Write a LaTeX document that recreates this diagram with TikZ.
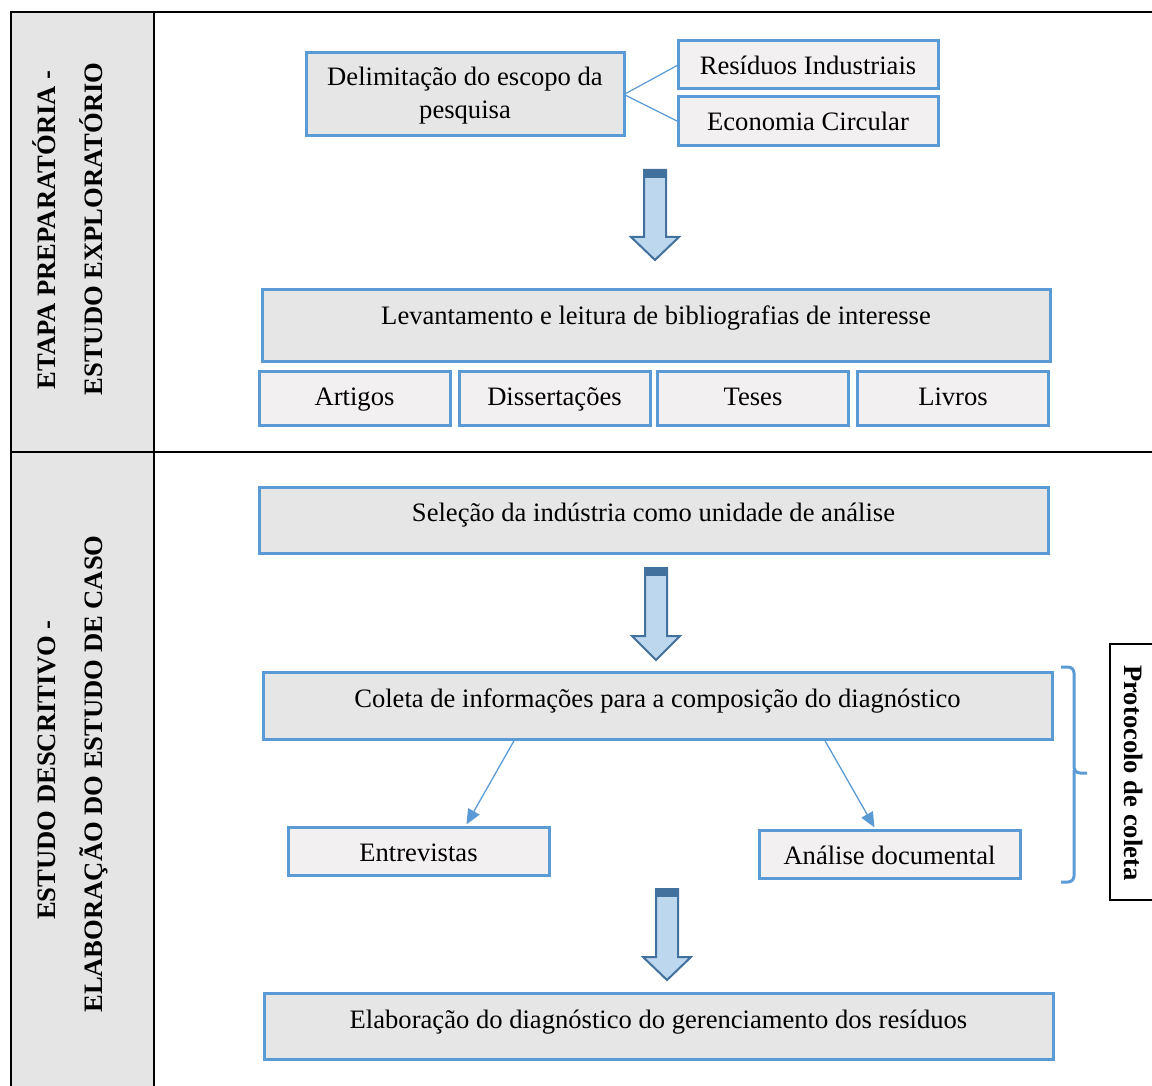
\documentclass[tikz,border=0pt]{standalone}
\usepackage{fontspec}
\setmainfont{Liberation Serif}
\usetikzlibrary{arrows.meta}
\definecolor{boxline}{HTML}{5B9BD5}
\definecolor{boxfill}{HTML}{E7E6E6}
\definecolor{subfill}{HTML}{F2F0F0}
\definecolor{sidefill}{HTML}{E5E5E5}
\definecolor{arrowfill}{HTML}{BDD7EE}
\definecolor{arrowline}{HTML}{41719C}
\begin{document}
\begin{tikzpicture}[x=1pt,y=-1pt,
  every node/.style={font=\fontsize{26.6}{33}\selectfont, inner sep=0pt, outer sep=0pt},
  box/.style={draw=boxline, line width=3pt, fill=boxfill},
  subbox/.style={draw=boxline, line width=3pt, fill=subfill},
  txt/.style={anchor=base},
  sidelabel/.style={font=\fontsize{26.6}{33}\selectfont\bfseries, rotate=90, anchor=base},
  grid/.style={black, line width=2.2pt},
  link/.style={boxline, line width=1.2pt},
  linkarrow/.style={boxline, line width=1.3pt, -{Triangle[length=15pt,width=13pt]}},
  bigarrow/.style={fill=arrowfill, draw=arrowline, line width=2pt, line join=miter}]
\useasboundingbox (0,0) rectangle (1152,1086);

% table: grey title column and frame lines
\fill[sidefill] (11,12) rectangle (154,1086);
\draw[grid] (11,1090) -- (11,12) -- (1155,12);
\draw[grid] (154,12) -- (154,1090);
\draw[grid] (11,452) -- (1155,452);

% row titles
\node[sidelabel] (t1a) at (55,230) {ETAPA PREPARATÓRIA -};
\node[sidelabel] (t1b) at (102,229) {ESTUDO EXPLORATÓRIO};
\node[sidelabel] (t2a) at (55,770) {ESTUDO DESCRITIVO -};
\node[sidelabel] (t2b) at (102,774) {ELABORAÇÃO DO ESTUDO DE CASO};

% exploratory stage
\node[box, minimum width=318, minimum height=83] (delim) at (465,94.5) {};
\node[txt] (delimA) at (465,86) {Delimitação do escopo da};
\node[txt] (delimB) at (465,119) {pesquisa};
\node[subbox, minimum width=260, minimum height=48] (res) at (808,65) {};
\node[txt] (resT) at (808,75) {Resíduos Industriais};
\node[subbox, minimum width=260, minimum height=49] (eco) at (808,121.5) {};
\node[txt] (ecoT) at (808,131) {Economia Circular};
\draw[link] (delim.east) -- (res.west);
\draw[link] (delim.east) -- (eco.west);

\node[box, minimum width=788, minimum height=71] (lev) at (656,325.5) {};
\node[txt] (levT) at (656,324) {Levantamento e leitura de bibliografias de interesse};
\node[subbox, minimum width=191, minimum height=54] (art) at (354.5,398) {};
\node[txt] (artT) at (354.5,405) {Artigos};
\node[subbox, minimum width=191, minimum height=54] (dis) at (554.5,398) {};
\node[txt] (disT) at (554.5,405) {Dissertações};
\node[subbox, minimum width=191, minimum height=54] (tes) at (753,398) {};
\node[txt] (tesT) at (753,405) {Teses};
\node[subbox, minimum width=191, minimum height=54] (liv) at (953,398) {};
\node[txt] (livT) at (953,405) {Livros};

% descriptive stage
\node[box, minimum width=789, minimum height=66] (sel) at (653.5,520) {};
\node[txt] (selT) at (653.5,521) {Seleção da indústria como unidade de análise};
\node[box, minimum width=789, minimum height=67] (col) at (657.5,705.5) {};
\node[txt] (colT) at (657.5,707) {Coleta de informações para a composição do diagnóstico};
\node[subbox, minimum width=261, minimum height=48] (ent) at (418.5,851) {};
\node[txt] (entT) at (418.5,861) {Entrevistas};
\node[subbox, minimum width=261, minimum height=48] (ana) at (889.5,854) {};
\node[txt] (anaT) at (889.5,864) {Análise documental};
\node[box, minimum width=789, minimum height=66] (ela) at (658.5,1026) {};
\node[txt] (elaT) at (658.5,1028) {Elaboração do diagnóstico do gerenciamento dos resíduos};

\draw[linkarrow, shorten >=3pt] (515,0 |- col.south) -- (465,0 |- ent.north);
\draw[linkarrow, shorten >=3pt] (824,0 |- col.south) -- (876,0 |- ana.north);

% block arrows between the steps
\foreach \x/\t/\h/\p in {655/170/237/260, 656/568/636/660, 667/889/957/980} {
  \draw[bigarrow] (\x-11,\t) -- (\x+11,\t) -- (\x+11,\h) -- (\x+24,\h) -- (\x,\p)
    -- (\x-24,\h) -- (\x-11,\h) -- cycle;
  \fill[arrowline] (\x-12,\t-1) rectangle (\x+12,\t+8);
}

% brace grouping the collection steps
\draw[boxline, line width=3pt, rounded corners=6pt]
  (1061,667) -- (1074,667) -- (1074,773) -- (1087,773);
\draw[boxline, line width=3pt, rounded corners=6pt]
  (1074,770) -- (1074,882) -- (1061,882);
\draw[black, line width=1.3pt] (1155,644) -- (1110,644) -- (1110,900) -- (1155,900);
\node[font=\fontsize{26.6}{33}\selectfont\bfseries, rotate=-90, anchor=base] (proto)
  at (1124,773) {Protocolo de coleta};
\end{tikzpicture}
\end{document}
